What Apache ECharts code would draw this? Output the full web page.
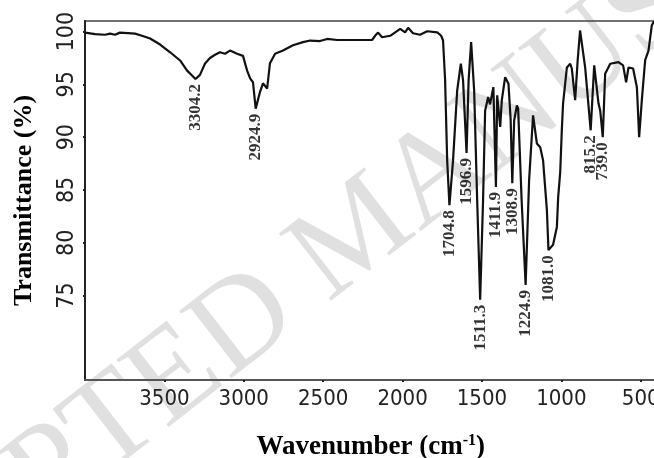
<!DOCTYPE html>
<html>
<head>
<meta charset="utf-8">
<script src="https://cdn.jsdelivr.net/npm/echarts@6/dist/echarts.min.js"></script>
<style>
  html, body { margin: 0; padding: 0; background: #fff; }
  #chart { width: 654px; height: 458px; }
</style>
</head>
<body>
<div id="chart"></div>
<script>
// Spectrum (wavenumber in cm-1, transmittance in %)
const wavenumbers = [
  4000, 3937, 3874, 3842, 3811, 3780, 3729, 3685, 3641, 3590, 3527, 3464, 3401, 3357, 3326,
  3304.2, 3276, 3244, 3213, 3181, 3150, 3118, 3087, 3042, 3005, 2979, 2960, 2942, 2924.9,
  2898, 2879, 2853, 2835, 2803, 2753, 2690, 2627, 2582, 2520, 2475, 2412, 2192, 2173, 2154,
  2129, 2078, 2015, 1984, 1965, 1934, 1890, 1845, 1782, 1757, 1745, 1732, 1719, 1704.8,
  1682, 1656, 1633, 1619, 1596.9, 1584, 1568, 1549, 1530, 1511.3, 1493, 1480, 1461, 1449,
  1428, 1411.9, 1404, 1385, 1375, 1354, 1333, 1319, 1308.9, 1297, 1280, 1272, 1250, 1224.9,
  1203, 1178, 1154, 1133, 1115, 1091, 1081.0, 1052, 1028, 1020, 1007, 997, 989, 965, 944,
  934, 913, 897, 882, 850, 815.2, 793, 766, 755, 739.0, 724, 692, 640, 611, 592, 577, 548,
  524, 510, 493, 472, 451, 430, 415
];
const transmittance = [
  99.9, 99.76, 99.7, 99.8, 99.7, 99.9, 99.86, 99.8, 99.6, 99.34, 98.77, 98.04, 97.26, 96.3, 95.84,
  95.5, 95.9, 96.98, 97.5, 97.8, 98.04, 97.9, 98.2, 97.9, 97.7, 96.3, 95.56, 95.2, 92.7,
  94.27, 95.1, 94.6, 97.0, 97.9, 98.2, 98.7, 99.0, 99.15, 99.1, 99.3, 99.2, 99.2, 99.6, 99.9,
  99.46, 99.6, 100.25, 99.93, 100.35, 99.84, 99.7, 100.03, 99.93, 99.6, 99.15, 95.4, 87.8, 83.56,
  87.8, 94.4, 96.95, 95.4, 88.5, 95.4, 99.0, 94.4, 84.0, 74.6, 84.0, 92.5, 93.8, 93.1,
  94.74, 85.27, 93.96, 90.96, 93.48, 95.68, 95.06, 91.6, 85.64, 91.6, 93.0, 92.7, 84.0, 76.0,
  85.9, 92.07, 89.4, 89.04, 87.8, 83.1, 79.3, 79.8, 81.5, 84.3, 86.7, 90.65, 93.2, 96.6, 96.95,
  96.5, 93.5, 97.3, 100.1, 96.6, 90.65, 96.8, 93.2, 92.5, 90.0, 96.0, 96.95, 97.1, 96.8, 95.2, 96.6, 96.5,
  94.7, 90.0, 93.5, 97.3, 98.2, 100.6, 101
];

// Labelled bands
const peakWavenumbers = [3304.2, 2924.9, 1704.8, 1596.9, 1511.3, 1411.9, 1308.9, 1224.9, 1081.0, 815.2, 739.0];
const peakTransmittance = [95.5, 92.7, 83.56, 88.5, 74.6, 85.27, 85.64, 76.0, 79.3, 90.65, 90.0];
const peakLabels = ['3304.2', '2924.9', '1704.8', '1596.9', '1511.3', '1411.9', '1308.9', '1224.9', '1081.0', '815.2', '739.0'];

// Axis ticks
const xTicks = [3500, 3000, 2500, 2000, 1500, 1000, 500];
const yTicks = [75, 80, 85, 90, 95, 100];

const tickFont = "'Liberation Sans Narrow', 'DejaVu Sans Condensed', 'Liberation Sans', sans-serif";
const serifFont = "'Liberation Serif', 'DejaVu Serif', serif";

const chart = echarts.init(document.getElementById('chart'), null, { renderer: 'canvas' });

const spectrum = wavenumbers.map((w, i) => [w, transmittance[i]]);
const peaks = peakWavenumbers.map((w, i) => ({ value: [w, peakTransmittance[i]], name: peakLabels[i] }));

const option = {
  animation: false,
  backgroundColor: '#fff',
  grid: {
    left: 85, top: 21, width: 571.6, height: 359,
    outerBoundsMode: 'none',
    containLabel: false,
    show: true, borderColor: '#444', borderWidth: 1.5
  },
  graphic: [{
    type: 'text',
    x: 360, y: 235,
    rotation: 0.66,
    z: -1,
    silent: true,
    style: {
      text: 'ACCEPTED MANUSCRIPT',
      font: "130px 'Liberation Serif', serif",
      fill: 'rgba(0,0,0,0.12)',
      align: 'center',
      verticalAlign: 'middle'
    }
  }],
  xAxis: {
    type: 'value',
    inverse: true,
    min: 400, max: 4000,
    name: 'Wavenumber (cm{sup|-1})',
    nameLocation: 'middle',
    nameGap: 53,
    nameTextStyle: {
      fontFamily: serifFont, fontWeight: 'bold', fontSize: 27, color: '#000',
      rich: {
        sup: { fontFamily: serifFont, fontWeight: 'bold', fontSize: 16, color: '#000', verticalAlign: 'top', padding: [0, 0, 12, 0] }
      }
    },
    splitLine: { show: false },
    axisLine: { lineStyle: { color: '#555', width: 2 } },
    axisTick: { customValues: xTicks, length: 2, lineStyle: { color: '#222', width: 2 } },
    axisLabel: {
      customValues: xTicks, margin: 8,
      formatter: v => String(v),
      fontFamily: tickFont, fontSize: 22, color: '#222'
    }
  },
  yAxis: {
    type: 'value',
    min: 67, max: 101,
    name: 'Transmittance (%)',
    nameLocation: 'middle',
    nameGap: 48,
    nameTextStyle: { fontFamily: serifFont, fontWeight: 'bold', fontSize: 26, color: '#000' },
    splitLine: { show: false },
    axisLine: { lineStyle: { color: '#222', width: 2 } },
    axisTick: { customValues: yTicks, length: 2, lineStyle: { color: '#222', width: 2 } },
    axisLabel: {
      customValues: yTicks, rotate: 90, margin: 6,
      formatter: v => String(v),
      fontFamily: tickFont, fontSize: 23, color: '#222'
    }
  },
  series: [
    {
      type: 'line',
      data: spectrum,
      showSymbol: false,
      smooth: false,
      lineStyle: { color: '#111', width: 2.2 },
      z: 3
    },
    {
      type: 'scatter',
      data: peaks,
      symbolSize: 0,
      z: 4,
      label: {
        show: true,
        formatter: '{b}',
        position: 'bottom',
        distance: 5,
        rotate: 90,
        align: 'right',
        verticalAlign: 'middle',
        fontFamily: serifFont,
        fontWeight: 'bold',
        fontSize: 17,
        color: '#000'
      }
    }
  ]
};

chart.setOption(option);
</script>
</body>
</html>
